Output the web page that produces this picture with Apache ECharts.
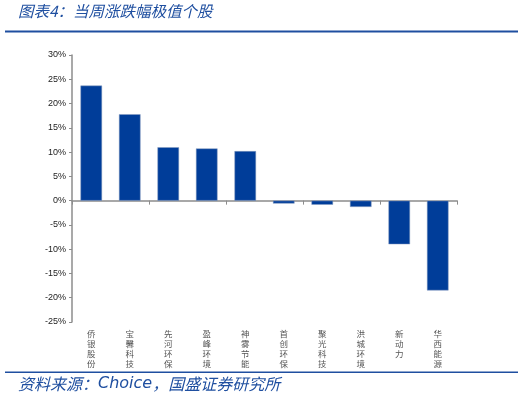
<!DOCTYPE html>
<html><head><meta charset="utf-8">
<script src="https://cdn.jsdelivr.net/npm/echarts@6/dist/echarts.min.js"></script>
<style>html,body{margin:0;padding:0;background:#fff}#c{width:526px;height:398px}</style>
</head><body><div id="c"></div>
<script>
const categories = ['侨银股份','宝馨科技','先河环保','盈峰环境','神雾节能','首创环保','聚光科技','洪城环境','新动力','华西能源'];
const values = [23.7, 17.8, 11.0, 10.75, 10.2, -0.6, -0.85, -1.3, -9.0, -18.5];
const yTicks = {min: -25, max: 30, interval: 5};
const titleText = '图表4：当周涨跌幅极值个股';
const sourceParts = ['资料来源：', 'Choice', '，国盛证券研究所'];

const chart = echarts.init(document.getElementById('c'));
const cjk = '"Noto Sans CJK SC", sans-serif';
const blue = '#1f4fa0';
chart.setOption({
  animation: false,
  backgroundColor: '#fff',
  grid: {left: 72, right: 69, top: 55, bottom: 76},
  graphic: [
    {type: 'text', left: 18, top: 3, style: {text: titleText, fontSize: 15.5, fontStyle: 'italic', fill: blue, fontFamily: cjk}},
    {type: 'rect', shape: {x: 5, y: 30.5, width: 513, height: 2}, style: {fill: blue}},
    {type: 'rect', shape: {x: 5, y: 371.5, width: 513, height: 1.5}, style: {fill: blue}},
    {type: 'text', left: 18, top: 376, style: {
      text: '{a|' + sourceParts[0] + '}{b|' + sourceParts[1] + '}{a|' + sourceParts[2] + '}',
      rich: {
        a: {fontSize: 16, fontStyle: 'italic', fill: blue, color: blue, fontFamily: cjk},
        b: {fontSize: 16, fontStyle: 'italic', fill: blue, color: blue, fontFamily: '"DejaVu Sans", sans-serif'}
      }}}
  ],
  xAxis: [
    {type: 'category', data: categories, axisLine: {onZero: true, lineStyle: {color: '#8c8c8c', width: 1.5}},
     axisTick: {show: true, length: 4, lineStyle: {color: '#8c8c8c'}}, axisLabel: {show: false}},
    {type: 'category', data: categories, position: 'bottom', axisLine: {show: false, onZero: false}, axisTick: {show: false},
     axisLabel: {margin: 7, fontSize: 8.5, color: '#555', lineHeight: 10, fontFamily: cjk, interval: 0, verticalAlign: 'top',
       formatter: v => v.split('').join('\n')}}
  ],
  yAxis: {type: 'value', min: yTicks.min, max: yTicks.max, interval: yTicks.interval,
    axisLine: {show: true, lineStyle: {color: '#8c8c8c', width: 1.5}},
    axisTick: {show: true, length: 3, lineStyle: {color: '#8c8c8c'}},
    splitLine: {show: false},
    axisLabel: {formatter: '{value}%', fontSize: 9, color: '#222', fontFamily: 'Liberation Sans, Arial', margin: 6}},
  series: [{type: 'bar', data: values, xAxisIndex: 0, barWidth: '56%',
    itemStyle: {color: '#003d99', borderColor: '#8a9fc0', borderWidth: 0.5}}]
});
</script></body></html>
